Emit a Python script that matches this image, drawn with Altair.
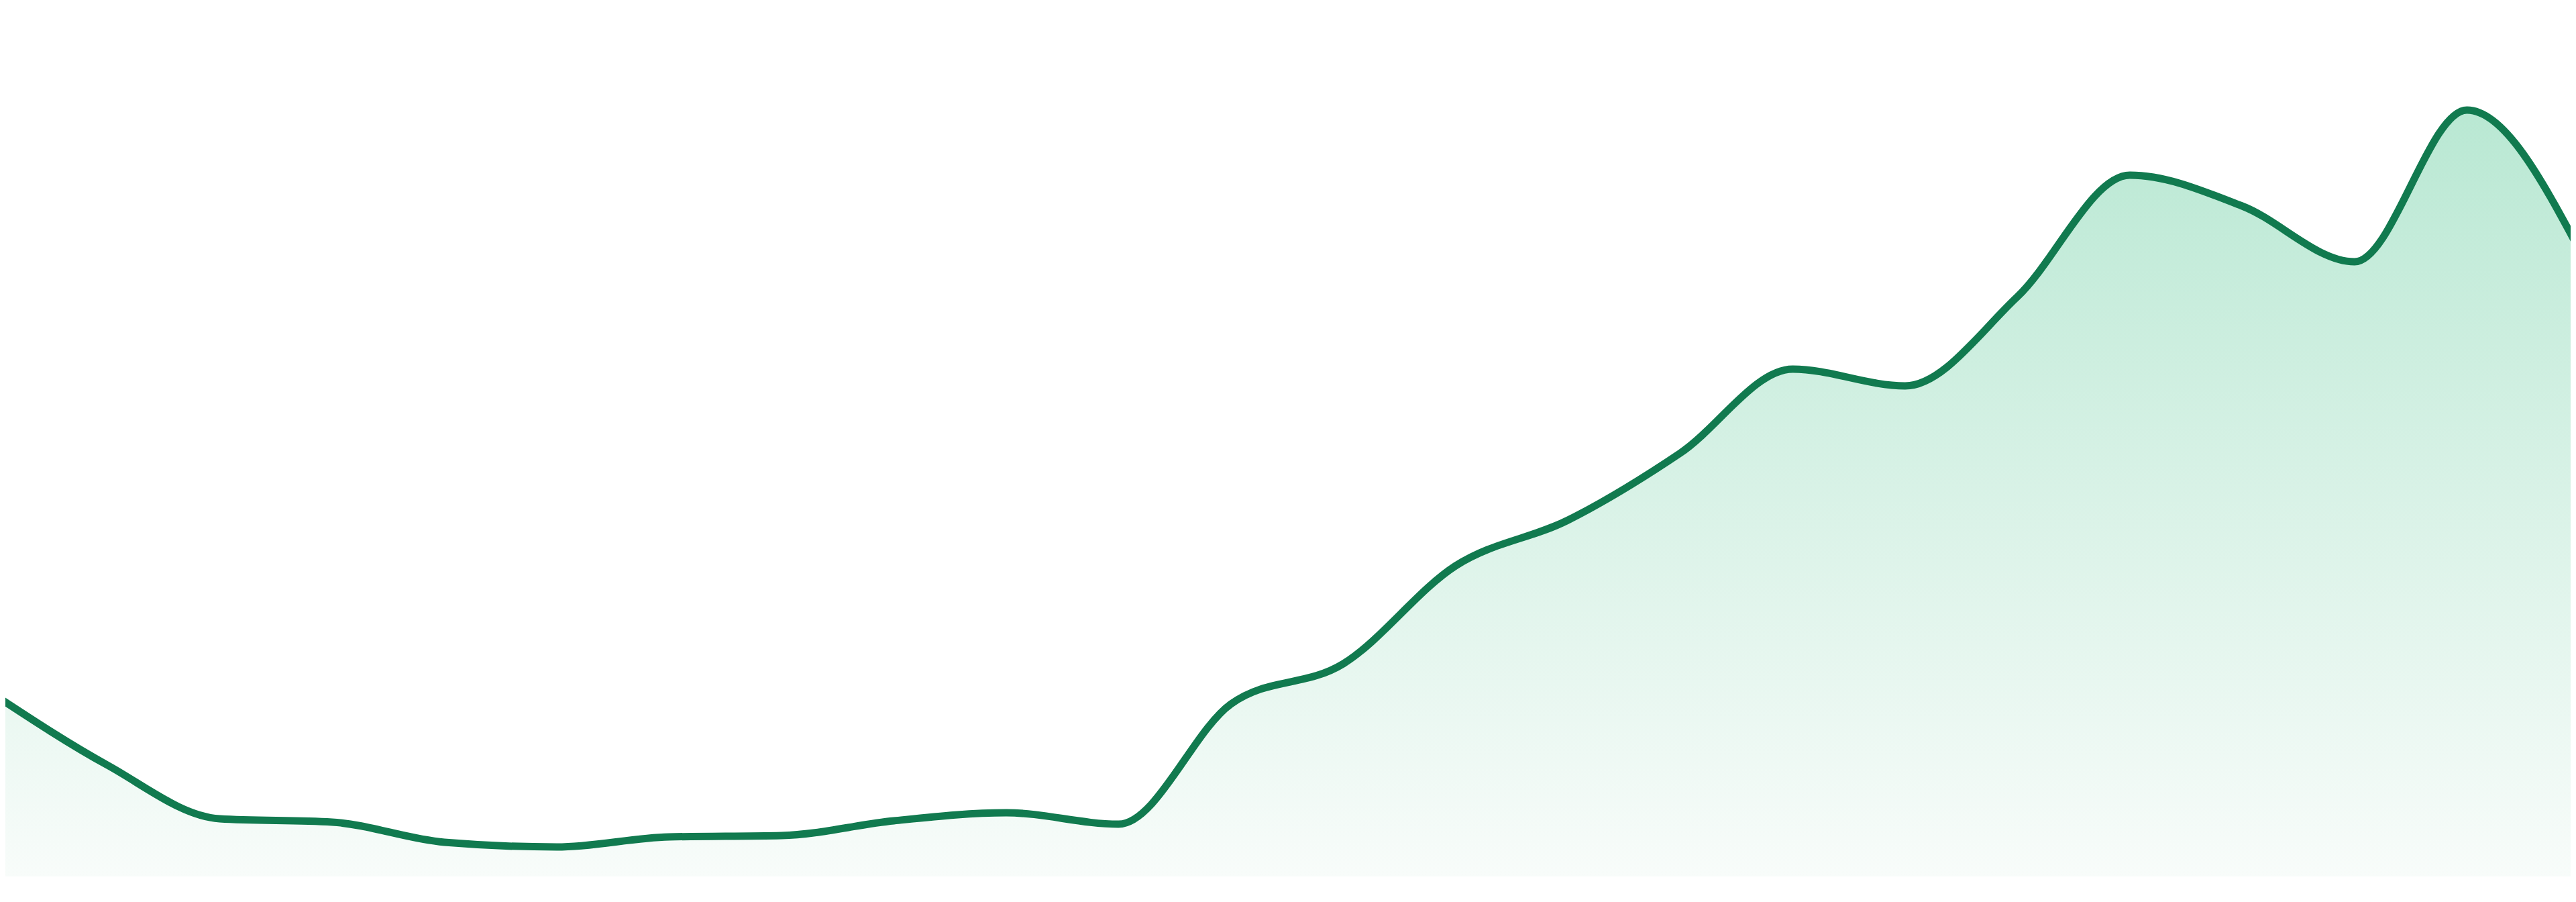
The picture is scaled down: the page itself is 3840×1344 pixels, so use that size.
import altair as alt
import pandas as pd

# Sample positions (regular steps) and the series values
steps = list(range(24))
values = [270, 166, 86, 81, 51, 44, 59, 61, 83, 95, 78, 257,
          317, 463, 531, 631, 756, 731, 864, 1045, 999, 916, 1142, 934]

df = pd.DataFrame({"step": steps, "value": values})

line_color = "#117a4f"
fill_top = "#b9e8d3"
fill_bottom = "#f8fcfa"

x_enc = alt.X("step:Q", axis=None,
              scale=alt.Scale(domain=[0.0925, 22.923], nice=False, zero=False))
y_enc = alt.Y("value:Q", axis=None,
              scale=alt.Scale(domain=[0, 1298], nice=False, zero=True))

area = alt.Chart(df).mark_area(
    interpolate="monotone",
    clip=True,
    color=alt.Gradient(
        gradient="linear",
        stops=[alt.GradientStop(color=fill_bottom, offset=0),
               alt.GradientStop(color=fill_top, offset=1)],
        x1=1, x2=1, y1=1, y2=0,
    ),
).encode(x=x_enc, y=y_enc)

line = alt.Chart(df).mark_line(
    interpolate="monotone",
    clip=True,
    color=line_color,
    strokeWidth=11,
).encode(x=x_enc, y=y_enc)

chart = (area + line).properties(
    width=3824, height=1298, padding=0
).configure_view(strokeWidth=0)

chart.save("out.html", embed_options={"renderer": "svg", "actions": False})
